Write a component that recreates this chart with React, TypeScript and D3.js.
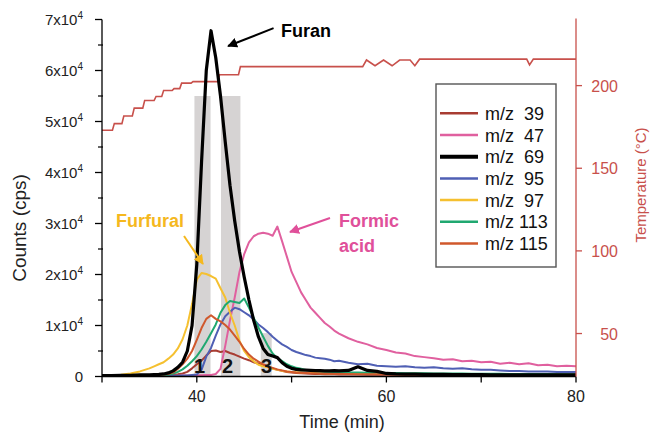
import React from "react";
import * as d3 from "d3";

// time axis (min), shared by every m/z trace
const time = [
  30, 31, 32, 33, 34, 35,
  35.5, 36, 36.5, 37, 37.5, 38, 38.5, 39, 39.5, 40,
  40.5, 41, 41.5, 42, 42.5, 43, 43.5, 44, 44.5, 45,
  45.5, 46, 46.5, 47, 47.5, 48, 48.5, 49, 49.5, 50,
  50.5, 51, 51.5, 52, 52.5, 53, 53.5, 54, 54.5, 55,
  56, 57, 58, 59, 60, 61, 62, 63, 64, 65,
  66, 67, 68, 69, 70, 71, 72, 73, 74, 75,
  76, 77, 78, 79, 80,
];

const mz39 = [
  150, 150, 150, 200, 200, 200,
  200, 250, 250, 300, 350, 450, 600, 900, 1600, 2400,
  3100, 4100, 5000, 5100, 4800, 5000, 4600, 4300, 3900, 3500,
  3200, 2800, 2500, 2200, 1900, 1600, 1300, 1100, 900, 800,
  700, 650, 600, 550, 500, 500, 450, 450, 450, 400,
  400, 400, 350, 350, 350, 350, 300, 300, 300, 300,
  300, 300, 250, 250, 250, 250, 250, 250, 250, 250,
  250, 200, 200, 200, 200,
];

const mz47 = [
  150, 150, 150, 150, 150, 150,
  150, 150, 150, 150, 150, 150, 200, 200, 200, 250,
  250, 300, 300, 500, 1500, 6000, 11000, 15500, 20500, 24000,
  26300, 27500, 28000, 28200, 28000, 27600, 29400, 26500, 23500, 20500,
  18500, 16500, 15000, 13500, 12500, 11500, 10500, 9800, 9000, 8400,
  7500, 6800, 6300, 5600, 5200, 4700, 4500, 4000, 3800, 3600,
  3300, 3400, 3000, 3100, 2800, 2900, 2500, 2700, 2400, 2600,
  2200, 2300, 2000, 2100, 2000,
];

const mz69 = [
  200, 200, 250, 250, 300, 300,
  350, 400, 500, 700, 1100, 1800, 2800, 5000, 10000, 22000,
  42000, 60000, 67800, 62500, 55000, 46000, 37500, 30500, 24500, 19500,
  15000, 11000, 7800, 5500, 4300, 4000, 3700, 2700, 2000, 1600,
  1400, 1300, 1250, 1200, 1150, 1150, 1100, 1100, 1150, 1100,
  1200, 1900, 1200, 1000, 600, 500, 450, 450, 400, 400,
  400, 350, 350, 350, 350, 300, 300, 300, 300, 300,
  300, 300, 300, 300, 300,
];

const mz95 = [
  100, 100, 100, 100, 100, 100,
  100, 100, 100, 150, 150, 150, 200, 200, 300, 400,
  1300, 3900, 5600, 8000, 10200, 11800, 12700, 13500, 13200, 12600,
  12000, 11200, 10200, 9500, 8700, 7800, 7000, 6300, 5800, 5200,
  4800, 4500, 4200, 4000, 3700, 3600, 3500, 3300, 3000, 3100,
  2700, 2400, 2500, 2100, 2000, 1900, 2000, 1800, 1700, 1800,
  1600, 1500, 1600, 1400, 1300, 1300, 1200, 1100, 1100, 1000,
  1000, 1000, 900, 900, 900,
];

const mz97 = [
  300, 300, 350, 600, 1000, 1600,
  2000, 2400, 2800, 3500, 4300, 5500, 7300, 10000, 14200, 19000,
  20300, 20100, 19700, 19200, 17300, 15500, 12500, 10000, 7000, 5000,
  3800, 3000, 2300, 2000, 1800, 1500, 1300, 1100, 1000, 900,
  850, 800, 750, 700, 700, 650, 650, 600, 600, 600,
  550, 550, 600, 500, 550, 500, 500, 550, 500, 500,
  500, 450, 500, 450, 500, 450, 450, 500, 450, 450,
  450, 400, 450, 400, 400,
];

const mz113 = [
  150, 150, 200, 200, 200, 250,
  250, 300, 300, 350, 600, 900, 1400, 2100, 3000, 4000,
  5300, 6800, 8500, 10200, 12500, 14000, 14800, 14600, 14400, 15300,
  13500, 11500, 9600, 7800, 6000, 4500, 3600, 3000, 2400, 2000,
  1700, 1500, 1300, 1200, 1100, 1000, 950, 900, 850, 850,
  800, 800, 750, 750, 700, 700, 650, 650, 650, 600,
  600, 600, 600, 550, 550, 550, 550, 500, 500, 500,
  500, 500, 450, 450, 450,
];

const mz115 = [
  200, 200, 200, 250, 250, 300,
  300, 350, 400, 500, 800, 1500, 2400, 3500, 5000, 7200,
  9500, 11300, 12000, 11300, 10800, 10100, 9200, 8000, 6800, 5400,
  4300, 3500, 2900, 2400, 2000, 1700, 1400, 1200, 1000, 900,
  800, 750, 700, 650, 600, 600, 550, 550, 500, 500,
  500, 450, 450, 450, 400, 400, 400, 400, 350, 350,
  350, 350, 350, 300, 300, 300, 300, 300, 300, 300,
  300, 250, 250, 250, 250,
];

const seriesLabels = ["m/z  39", "m/z  47", "m/z  69", "m/z  95", "m/z  97", "m/z 113", "m/z 115"];
const seriesValues = [mz39, mz47, mz69, mz95, mz97, mz113, mz115];
const seriesColors = ["#a83c32", "#e0609f", "#000000", "#4f5fb4", "#f5c030", "#20a870", "#d0582c"];
const drawOrder = [0, 1, 3, 4, 5, 6, 2];

// temperature programme (°C), right axis
const tempTime = [
  30, 31.1, 31.3, 32.1, 32.3, 33.2, 33.4, 34.3, 34.5, 35.5, 35.7, 36.3, 36.5,
  37.4, 37.6, 38.2, 38.4, 39.4, 39.6, 42.2, 42.4, 44.4, 44.6,
  57.5, 57.9, 58.8, 59.7, 60.6, 61.4, 62.5, 63.0, 63.5, 74.8, 75.1, 75.5, 80,
];
const tempValue = [
  173, 173, 177, 177, 181.6, 181.6, 186.4, 186.4, 191, 191, 193.4, 193.4, 197,
  197, 198.2, 198.2, 201.5, 201.5, 202.4, 202.4, 206.6, 206.6, 211.5,
  211.5, 215.5, 212, 215.5, 212, 215.5, 215.5, 212, 216, 216, 212.5, 216, 216,
];

// shaded integration windows
const bandStart = [39.75, 42.55, 46.75];
const bandEnd = [41.45, 44.6, 47.9];
const bandTop = [55000, 55000, 8500];
const bandLabels = ["1", "2", "3"];
const bandLabelTime = [40.3, 43.25, 47.35];

const countTicks = [0, 10000, 20000, 30000, 40000, 50000, 60000, 70000];
const countMinor = [5000, 15000, 25000, 35000, 45000, 55000, 65000];
const timeTicks = [30, 40, 50, 60, 70, 80];
const timeLabels = [40, 60, 80];
const tempTicks = [50, 100, 150, 200];

const font = "Liberation Sans, Arial, sans-serif";

export default function App() {
  const x = d3.scaleLinear().domain([30, 80]).range([102, 576]);
  const y = d3.scaleLinear().domain([0, 70000]).range([376.5, 19.5]);
  const yT = d3.scaleLinear().domain([24, 240]).range([376.5, 19.5]);

  const line = d3
    .line<number>()
    .x((_, i) => x(time[i]))
    .y((d) => y(d));

  const tempLine = d3
    .line<number>()
    .x((_, i) => x(tempTime[i]))
    .y((d) => yT(d));

  const tempColor = "#c8504b";

  return (
    <svg
      width={653}
      height={433}
      style={{ position: "absolute", left: 0, top: 0, background: "#fff" }}
      fontFamily={font}
    >
      <defs>
        <marker id="ahK" viewBox="0 0 10 10" refX="9" refY="5" markerWidth="5" markerHeight="5" orient="auto">
          <path d="M0,0 L10,5 L0,10 z" fill="#000" />
        </marker>
        <marker id="ahY" viewBox="0 0 10 10" refX="9" refY="5" markerWidth="5" markerHeight="5" orient="auto">
          <path d="M0,0 L10,5 L0,10 z" fill="#f5b81e" />
        </marker>
        <marker id="ahP" viewBox="0 0 10 10" refX="9" refY="5" markerWidth="5" markerHeight="5" orient="auto">
          <path d="M0,0 L10,5 L0,10 z" fill="#e0509a" />
        </marker>
      </defs>

      {/* gray bands */}
      {bandStart.map((b, i) => (
        <rect
          key={"band" + i}
          x={x(b)}
          y={y(bandTop[i])}
          width={x(bandEnd[i]) - x(b)}
          height={y(0) - y(bandTop[i])}
          fill="#d6d3d3"
        />
      ))}

      {/* temperature */}
      <path d={tempLine(tempValue) || ""} fill="none" stroke={tempColor} strokeWidth={1.6} />

      {/* traces */}
      {drawOrder.map((k) => (
        <path
          key={"s" + k}
          d={line(seriesValues[k]) || ""}
          fill="none"
          stroke={seriesColors[k]}
          strokeWidth={k === 2 ? 3.2 : 2}
          strokeLinejoin="round"
        />
      ))}

      {/* band labels */}
      {bandLabels.map((l, i) => (
        <text
          key={"bl" + i}
          x={x(bandLabelTime[i])}
          y={y(0) - 4}
          textAnchor="middle"
          fontSize={20}
          fontWeight="bold"
          fill="#111"
        >
          {l}
        </text>
      ))}

      {/* left axis */}
      <line x1={x(30)} x2={x(30)} y1={y(70000)} y2={y(0)} stroke="#000" strokeWidth={1.3} />
      {countTicks.map((t) => (
        <g key={"ct" + t}>
          <line x1={x(30) - 7} x2={x(30)} y1={y(t)} y2={y(t)} stroke="#000" strokeWidth={1.3} />
          <text x={83} y={y(t) + 5} textAnchor="end" fontSize={15} fill="#222">
            {t === 0 ? (
              "0"
            ) : (
              <>
                {t / 10000 + "x10"}
                <tspan dy={-6} fontSize={10}>
                  4
                </tspan>
              </>
            )}
          </text>
        </g>
      ))}
      {countMinor.map((t) => (
        <line key={"cm" + t} x1={x(30) - 4} x2={x(30) + 1} y1={y(t)} y2={y(t)} stroke="#000" strokeWidth={1.2} />
      ))}
      <text
        transform={`translate(26,${228}) rotate(-90)`}
        textAnchor="middle"
        fontSize={19}
        fill="#222"
      >
        Counts (cps)
      </text>

      {/* bottom axis */}
      <line x1={x(30)} x2={x(80)} y1={y(0)} y2={y(0)} stroke="#000" strokeWidth={1.3} />
      {timeTicks.map((t) => (
        <line key={"tt" + t} x1={x(t)} x2={x(t)} y1={y(0)} y2={y(0) + 6} stroke="#000" strokeWidth={1.3} />
      ))}
      {timeLabels.map((t) => (
        <text key={"tl" + t} x={x(t)} y={402} textAnchor="middle" fontSize={16} fill="#222">
          {t}
        </text>
      ))}
      <text x={342} y={428} textAnchor="middle" fontSize={18} fill="#222">
        Time (min)
      </text>

      {/* right axis */}
      <line x1={x(80)} x2={x(80)} y1={yT(240) - 1} y2={y(0)} stroke={tempColor} strokeWidth={1.3} />
      {tempTicks.map((t) => (
        <g key={"tp" + t}>
          <line x1={x(80)} x2={x(80) + 6} y1={yT(t)} y2={yT(t)} stroke={tempColor} strokeWidth={1.3} />
          <text x={618} y={yT(t) + 6} textAnchor="end" fontSize={16} fill={tempColor}>
            {t}
          </text>
        </g>
      ))}
      <text
        transform={`translate(646,${185}) rotate(-90)`}
        textAnchor="middle"
        fontSize={15}
        fill={tempColor}
      >
        Temperature (°C)
      </text>

      {/* legend */}
      <rect x={436} y={84} width={120} height={183} fill="#fff" stroke="#555" strokeWidth={1.4} />
      {seriesLabels.map((l, i) => (
        <g key={"lg" + i} transform={`translate(0,${113.3 + i * 21.7})`}>
          <line x1={440} x2={478} y1={0} y2={0} stroke={seriesColors[i]} strokeWidth={i === 2 ? 4 : 2.5} />
          <text x={485} y={6.5} fontSize={18} fill="#111" style={{ whiteSpace: "pre" }}>
            {l}
          </text>
        </g>
      ))}

      {/* annotations */}
      <text x={x(48.88)} y={y(66570)} fontSize={18} fontWeight="bold" fill="#000">
        Furan
      </text>
      <line
        x1={x(48.1)}
        y1={y(68300)}
        x2={x(43.3)}
        y2={y(64800)}
        stroke="#000"
        strokeWidth={2}
        markerEnd="url(#ahK)"
      />
      <text x={x(31.48)} y={y(29310)} fontSize={18} fontWeight="bold" fill="#f5b81e">
        Furfural
      </text>
      <line
        x1={x(38.65)}
        y1={y(27550)}
        x2={x(40.65)}
        y2={y(22060)}
        stroke="#f5b81e"
        strokeWidth={2}
        markerEnd="url(#ahY)"
      />
      <text x={x(55.0)} y={y(29310)} fontSize={18} fontWeight="bold" fill="#e0509a">
        Formic
      </text>
      <text x={x(55.0)} y={y(24410)} fontSize={18} fontWeight="bold" fill="#e0509a">
        acid
      </text>
      <line
        x1={x(54.05)}
        y1={y(31080)}
        x2={x(49.83)}
        y2={y(28330)}
        stroke="#e0509a"
        strokeWidth={2}
        markerEnd="url(#ahP)"
      />
    </svg>
  );
}
